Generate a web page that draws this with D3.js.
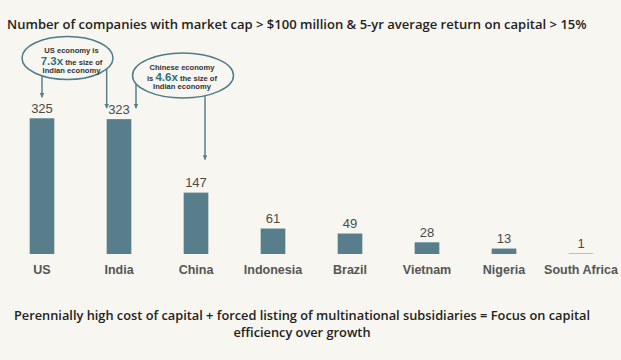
<!DOCTYPE html>
<html>
<head>
<meta charset="utf-8">
<script src="https://cdn.jsdelivr.net/npm/d3@7"></script>
<style>
  html, body { margin: 0; padding: 0; background: #f7f6f0; }
  svg { display: block; }
</style>
</head>
<body>
<svg id="chart" width="621" height="360"></svg>
<script>
// ---- data ----
const categories = ["US", "India", "China", "Indonesia", "Brazil", "Vietnam", "Nigeria", "South Africa"];
const values = [325, 323, 147, 61, 49, 28, 13, 1];
const titleText = "Number of companies with market cap > $100 million & 5-yr average return on capital > 15%";
const footnoteLines = [
  "Perennially high cost of capital + forced listing of multinational subsidiaries = Focus on capital",
  "efficiency over growth"
];
const annotations = [
  { lines: [["US economy is"], ["7.3x", " the size of"], ["Indian economy"]] },
  { lines: [["Chinese economy"], ["is ", "4.6x", " the size of"], ["Indian economy"]] }
];

// ---- setup ----
const W = 621, H = 360;
const svg = d3.select("#chart");
svg.append("rect").attr("width", W).attr("height", H).attr("fill", "#f7f6f0");

const barColor = "#577e8a";
const lineColor = "#5a808b";
const baseY = 254;
const headFont = "'Open Sans', Lato, sans-serif";

const x = d3.scaleBand()
  .domain(categories)
  .range([3.5, 619.5])
  .paddingInner(0.68)
  .paddingOuter(0.34);

const y = d3.scaleLinear()
  .domain([0, 325])
  .range([baseY, baseY - 135.7]);

const cx = c => x(c) + x.bandwidth() / 2;

// bars
svg.append("g").selectAll("rect")
  .data(categories)
  .join("rect")
  .attr("x", d => x(d))
  .attr("width", x.bandwidth())
  .attr("y", (d, i) => y(values[i]))
  .attr("height", (d, i) => baseY - y(values[i]))
  .attr("fill", barColor);

// value labels
svg.append("g").selectAll("text")
  .data(categories)
  .join("text")
  .attr("x", d => cx(d))
  .attr("y", (d, i) => y(values[i]) - 5.5)
  .attr("text-anchor", "middle")
  .attr("font-family", "Liberation Sans, Arial, sans-serif")
  .attr("font-size", 13)
  .attr("fill", "#4a4a4a")
  .text((d, i) => values[i]);

// category axis labels
const xAxis = d3.axisBottom(x).tickSize(0).tickPadding(0);
const ax = svg.append("g").attr("transform", `translate(0, ${baseY})`).call(xAxis);
ax.select(".domain").remove();
ax.selectAll("text")
  .attr("y", 20)
  .attr("dy", 0)
  .attr("font-family", "Liberation Sans, Arial, sans-serif")
  .attr("font-weight", "bold")
  .attr("font-size", 12.5)
  .attr("fill", "#555");

// title
const title = svg.append("text")
  .attr("x", 7).attr("y", 29)
  .attr("font-family", headFont)
  .attr("font-weight", 600)
  .attr("font-size", 14)
  .attr("fill", "#222")
  .text(titleText);
{
  const w = title.node().getComputedTextLength();
  title.attr("font-size", 14 * 580 / w);
}

// footnote
const footY = [319.5, 337];
const foot = footnoteLines.map((t, i) => svg.append("text")
  .attr("x", 302).attr("y", footY[i])
  .attr("text-anchor", "middle")
  .attr("font-family", headFont)
  .attr("font-weight", 600)
  .attr("font-size", 13)
  .attr("fill", "#222")
  .text(t));
{
  const w = foot[0].node().getComputedTextLength();
  const fs = Math.min(12.8, 13 * 586 / w);
  foot.forEach(f => f.attr("font-size", fs));
}

// arrow marker
const defs = svg.append("defs");
defs.append("marker")
  .attr("id", "arr")
  .attr("viewBox", "0 0 10 10")
  .attr("refX", 9).attr("refY", 5)
  .attr("markerWidth", 3.2).attr("markerHeight", 3.2)
  .attr("orient", "auto")
  .append("path")
  .attr("d", "M0,0 L10,5 L0,10 z")
  .attr("fill", lineColor);

// annotation ellipses
const ell = [
  { cx: 67.5, cy: 58, rx: 45.5, ry: 21.5, tx: 71.5, base: [52.5, 64.5, 72.5] },
  { cx: 183, cy: 75.5, rx: 50.5, ry: 22.5, tx: 182, base: [69.5, 81, 89] }
];
function ellipseY(e, xx) {
  const dx = (xx - e.cx) / e.rx;
  return e.cy + e.ry * Math.sqrt(Math.max(0, 1 - dx * dx));
}
ell.forEach((e, k) => {
  svg.append("ellipse")
    .attr("cx", e.cx).attr("cy", e.cy).attr("rx", e.rx).attr("ry", e.ry)
    .attr("fill", "none").attr("stroke", "#4f7c88").attr("stroke-width", 1.5);
  annotations[k].lines.forEach((parts, li) => {
    const t = svg.append("text")
      .attr("x", e.tx).attr("y", e.base[li])
      .attr("text-anchor", "middle")
      .attr("font-family", "Liberation Sans, Arial, sans-serif")
      .attr("font-weight", "bold")
      .attr("font-size", 7.6)
      .attr("fill", "#333");
    parts.forEach(p => {
      const big = /x$/.test(p.trim()) && /\d/.test(p);
      t.append("tspan")
        .attr("font-size", big ? 11.5 : 7.6)
        .attr("fill", big ? "#2f6f7b" : "#333")
        .text(p);
    });
  });
});

// arrows (anchored to bars/labels)
const arrows = [
  { e: 0, x: cx("US"), y2: y(values[0]) - 21 },
  { e: 0, x: x("India"), y2: y(values[1]) - 11 },
  { e: 1, x: cx("India") + 17, y2: y(values[1]) - 11 },
  { e: 1, x: cx("China") + 9, y2: y(values[2]) - 33 }
];
arrows.forEach(a => {
  const e = ell[a.e];
  svg.append("line")
    .attr("x1", a.x).attr("x2", a.x)
    .attr("y1", ellipseY(e, a.x))
    .attr("y2", a.y2)
    .attr("stroke", lineColor).attr("stroke-width", 1.5)
    .attr("marker-end", "url(#arr)");
});
</script>
</body>
</html>
